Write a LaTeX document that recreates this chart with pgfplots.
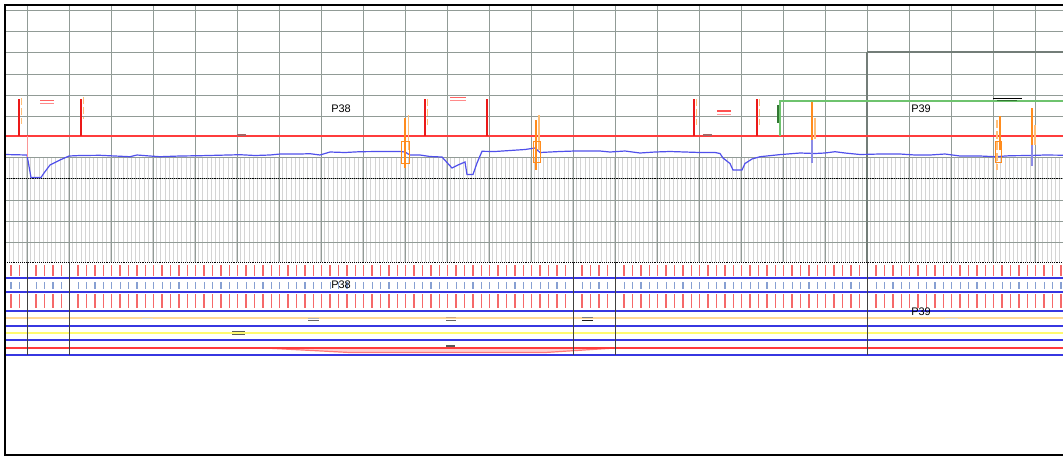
\documentclass[border=0pt]{standalone}
\usepackage{pgfplots}
\pgfplotsset{compat=1.18}
\usepackage{fontspec}
\setmainfont{Liberation Sans}
\definecolor{gridc}{RGB}{145,155,150}
\definecolor{darkgridc}{RGB}{115,125,120}
\definecolor{hatchc}{RGB}{212,212,212}
\definecolor{mred}{RGB}{255,60,60}
\definecolor{bred}{RGB}{235,25,25}
\definecolor{lorange}{RGB}{255,190,120}
\definecolor{orangec}{RGB}{255,140,30}
\definecolor{pblue}{RGB}{80,80,235}
\definecolor{bblue}{RGB}{55,55,225}
\definecolor{rowred}{RGB}{245,105,105}
\definecolor{rowblue}{RGB}{135,160,210}
\definecolor{lineorange}{RGB}{255,215,150}
\definecolor{lyellow}{RGB}{255,250,110}
\definecolor{grn}{RGB}{110,195,110}
\definecolor{dgreen}{RGB}{50,120,50}
\definecolor{purpleb}{RGB}{140,140,230}
\definecolor{pinkr}{RGB}{250,150,150}
\pgfplotsset{
  layer/.style={scale only axis, anchor=north west, y dir=reverse,
    axis line style={draw=none}, tick style={draw=none}, major tick length=0pt, minor tick length=0pt,
    xticklabels={}, yticklabels={}, xmin=5, xmax=1063, width=1058bp},
}
\newcommand{\hseg}[4]{\addplot[#1] coordinates {(#2,#4) (#3,#4)};}
\newcommand{\vseg}[4]{\addplot[#1] coordinates {(#2,#3) (#2,#4)};}
\begin{document}
\begin{tikzpicture}
\useasboundingbox (0,0) rectangle (1063bp,-458bp);
\fill[white] (0,0) rectangle (1063bp,-458bp);

% hatched band
\begin{axis}[layer, at={(5bp,-157bp)}, height=105bp, ymin=157, ymax=262,
  xtick={5.4,9.6,...,1062}, ytick=\empty, xmajorgrids,
  major grid style={hatchc, line width=1bp}]
\addplot[draw=none] coordinates {(5,157)};
\end{axis}

% main grid
\begin{axis}[layer, at={(5bp,-5bp)}, height=257bp, ymin=5, ymax=262,
  xtick={27,69,...,1035}, ytick={10,31,52,74,95,116,136,157,178,200,221,242},
  grid=major, major grid style={gridc, line width=0.9bp}]
\addplot[draw=none] coordinates {(5,5)};
\end{axis}

% tick rows
\begin{axis}[layer, at={(5bp,-265bp)}, height=11bp, ymin=265, ymax=276,
  xtick={10.9,19.3,...,1063}, ytick=\empty, xmajorgrids, major grid style={rowred, line width=1.3bp}]
\addplot[draw=none] coordinates {(5,265)};
\end{axis}
\begin{axis}[layer, at={(5bp,-282bp)}, height=7bp, ymin=282, ymax=289,
  xtick={10.9,19.3,...,1063}, ytick=\empty, xmajorgrids, major grid style={rowblue, line width=1.2bp}]
\addplot[draw=none] coordinates {(5,282)};
\end{axis}
\begin{axis}[layer, at={(5bp,-294bp)}, height=14bp, ymin=294, ymax=308,
  xtick={10.9,19.3,...,1063}, ytick=\empty, xmajorgrids, major grid style={rowred, line width=1.5bp}]
\addplot[draw=none] coordinates {(5,294)};
\end{axis}

% data layer
\begin{axis}[scale only axis, anchor=north west, at={(0bp,0bp)}, width=1063bp, height=458bp,
  xmin=0, xmax=1063, ymin=0, ymax=458, y dir=reverse, hide axis, clip=false]

% darker box lines
\vseg{darkgridc, line width=1.1bp}{867}{52}{262}
\hseg{darkgridc, line width=1.1bp}{867}{1063}{52}

% dotted lines
\hseg{black, densely dotted, line width=0.9bp}{5}{1063}{178}
\hseg{black, densely dotted, line width=0.9bp}{5}{1063}{262}

% profile
\addplot[pblue, line width=1.2bp] coordinates {
(5,154.5)(27,155)(31,177.5)(41,177.5)(44,173)(50,165)(60,160)(69,156)(80,155.5)(100,155.3)
(115,156)(130,156.7)(137,155)(150,156)(160,156.7)(180,156)(200,155.7)(220,155.2)(240,154.7)
(255,155.5)(270,155)(280,154)(300,154)(310,153.7)(320,155)(330,152)(345,152.5)(360,151.7)
(380,151.5)(400,151.5)(405,152)(410,155)(420,155)(430,156.5)(442,157)(452,168)(458,165)
(465,162)(467,174.5)(473,174.5)(477,163)(482,151.3)(495,151.5)(510,150.5)(525,149.5)(535,148)
(540,152.5)(550,152)(560,151.5)(575,151)(600,151)(610,152)(625,151)(640,153)(655,152)
(670,151.5)(700,152.5)(715,152.5)(720,153.5)(723,158)(730,163.5)(733,170)(742,170)(745,163.5)
(752,159)(760,156.7)(780,154.6)(800,153)(815,153.5)(825,153)(835,151.7)(845,153)(860,154.5)
(880,154)(900,154)(915,155)(930,155)(945,154)(960,156)(980,156)(995,156.7)(1010,155.7)
(1030,155.5)(1045,155)(1063,155.2)};

% red reference line and marks
\hseg{mred, line width=1.2bp}{5}{1063}{136}
\vseg{pinkr, line width=1bp}{27}{136}{157}
\hseg{black!60!red!60, line width=1.3bp}{237}{246}{135}
\hseg{black!60!red!60, line width=1.3bp}{703}{712}{135}
\vseg{bred, line width=2.5bp}{19}{99}{136}
\vseg{bred, line width=2.5bp}{81}{99}{136}
\vseg{bred, line width=2.5bp}{425}{99}{136}
\vseg{bred, line width=2.5bp}{487}{99}{136}
\vseg{bred, line width=2.5bp}{694}{99}{136}
\vseg{bred, line width=2.5bp}{757}{99}{136}
\vseg{lorange, line width=1.5bp, dash pattern=on 7bp off 3bp}{21.5}{98}{124}
\vseg{lorange, line width=1.5bp, dash pattern=on 7bp off 3bp}{83.5}{97}{119}
\vseg{lorange, line width=1.5bp, dash pattern=on 7bp off 3bp}{427.5}{99}{125}
\vseg{lorange, line width=1.5bp, dash pattern=on 7bp off 3bp}{696.5}{99}{125}
\vseg{lorange, line width=1.5bp, dash pattern=on 7bp off 3bp}{759.5}{99}{125}
\hseg{mred!80, line width=1.2bp}{40}{54}{100.5}
\hseg{mred!60, line width=1.2bp}{40}{54}{103.5}
\hseg{mred!80, line width=1.2bp}{450}{466}{97.5}
\hseg{mred!60, line width=1.2bp}{450}{466}{100.5}
\hseg{mred!90, line width=1.2bp}{717}{731}{111}
\hseg{mred!50, line width=1.2bp}{717}{731}{114.5}

% orange markers
\vseg{orangec, line width=1.2bp}{405}{118}{168}
\vseg{lorange, line width=1.2bp}{408.5}{115}{150}
\addplot[orangec, line width=0.9bp] coordinates {(401,141)(409,141)(409,163)(401,163)(401,141)};
\vseg{orangec, line width=1.2bp}{536}{120}{170}
\vseg{lorange, line width=1.2bp}{539}{115}{150}
\addplot[orangec, line width=0.9bp] coordinates {(533,141)(540,141)(540,162)(533,162)(533,141)};
\vseg{purpleb, line width=1.3bp}{812}{125}{163}
\vseg{orangec, line width=1.1bp}{812}{102}{140}
\vseg{lorange, line width=1.3bp}{815}{118}{139}
\vseg{lorange, line width=1.3bp, dash pattern=on 8bp off 3bp}{997}{120}{170}
\vseg{orangec, line width=1.1bp}{1000}{116}{150}
\addplot[orangec, line width=0.9bp] coordinates {(995,141)(1001,141)(1001,162)(995,162)(995,141)};
\vseg{purpleb, line width=1.3bp}{1032}{128}{166}
\vseg{orangec, line width=1.1bp}{1032}{108}{145}
\vseg{lorange, line width=1.3bp}{1035}{125}{145}

% green
\addplot[grn, line width=1.2bp] coordinates {(780,136)(780,101)(1063,101)};
\vseg{dgreen, line width=1.6bp}{778}{105}{123}
\hseg{black, line width=1bp}{993}{1022}{98}
\hseg{dgreen, line width=1.3bp}{997}{1017}{100.5}

% lower band lines
\hseg{bblue, line width=1.5bp}{5}{1063}{278}
\hseg{bblue, line width=1.5bp}{5}{1063}{292}
\hseg{bblue, line width=1.8bp}{5}{1063}{311}
\hseg{lineorange, line width=1.8bp}{5}{1063}{318}
\hseg{bblue, line width=1.5bp}{5}{1063}{326}
\hseg{lyellow, line width=2bp}{5}{1063}{333}
\hseg{bblue, line width=1.5bp}{5}{1063}{340}
\addplot[fill=red!18, draw=none] coordinates {(265,348)(350,352.5)(545,352.5)(615,348)} -- cycle;
\addplot[mred!70, line width=1.2bp] coordinates {(265,348)(350,352.5)(545,352.5)(615,348)};
\hseg{mred, line width=1.5bp}{5}{1063}{348}
\hseg{bblue, line width=1.8bp}{5}{1063}{355}
\vseg{black!75, line width=0.8bp}{27}{262}{355}
\vseg{black!75, line width=0.8bp}{69}{262}{355}
\vseg{black!75, line width=0.8bp}{573}{262}{355}
\vseg{black!75, line width=0.8bp}{615}{262}{355}
\vseg{black!75, line width=0.8bp}{867}{262}{355}

% small marks in lower band
\hseg{black!65, line width=1.1bp}{232}{245}{331.5}
\hseg{black!65, line width=1.1bp}{232}{245}{334.5}
\hseg{black!30, line width=1bp}{308}{319}{318}
\hseg{black!60, line width=1.1bp}{308}{319}{320.5}
\hseg{brown!70, line width=1.1bp}{446}{456}{317.7}
\hseg{black!60, line width=1.1bp}{446}{456}{320.7}
\hseg{black!50, line width=1.1bp}{582}{593}{317.5}
\hseg{black!90, line width=1.1bp}{582}{593}{320.5}
\hseg{black!65, line width=1.3bp}{446}{455}{346}
\hseg{black!15, line width=1bp}{142}{153}{318}
\hseg{black!15, line width=1bp}{945}{958}{318}

% labels
\node[font=\fontsize{11}{13}\selectfont] at (axis cs:341,109) {P38};
\node[font=\fontsize{11}{13}\selectfont] at (axis cs:341,284.5) {P38};
\node[font=\fontsize{11}{13}\selectfont] at (axis cs:921,109) {P39};
\node[font=\fontsize{11}{13}\selectfont] at (axis cs:921,312) {P39};

% frame
\addplot[black, line width=2bp] coordinates {(1063,5)(5,5)(5,455)(1063,455)};
\end{axis}
\end{tikzpicture}
\end{document}
